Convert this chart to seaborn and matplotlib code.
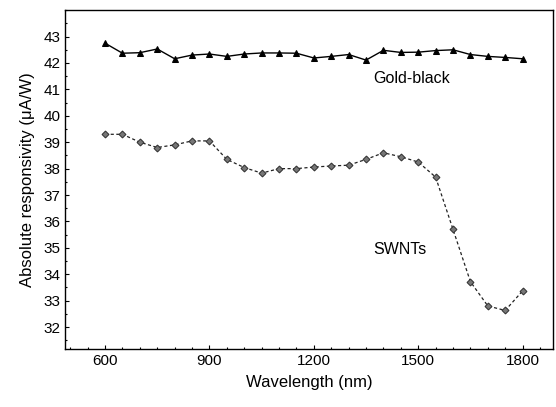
import matplotlib
matplotlib.use("Agg")
import matplotlib.pyplot as plt
import seaborn as sns
import pandas as pd
from matplotlib.ticker import MultipleLocator

wavelength = [600, 650, 700, 750, 800, 850, 900, 950, 1000, 1050, 1100, 1150, 1200,
              1250, 1300, 1350, 1400, 1450, 1500, 1550, 1600, 1650, 1700, 1750, 1800]
gold_black = [42.75, 42.37, 42.39, 42.53, 42.16, 42.30, 42.34, 42.25, 42.34, 42.38,
              42.38, 42.37, 42.19, 42.25, 42.32, 42.11, 42.48, 42.40, 42.41, 42.47,
              42.50, 42.32, 42.25, 42.21, 42.16]
swnts = [39.3, 39.3, 39.0, 38.8, 38.9, 39.05, 39.05, 38.35, 38.04, 37.83, 38.0, 38.0,
         38.06, 38.1, 38.13, 38.35, 38.6, 38.45, 38.25, 37.68, 35.7, 33.72, 32.8, 32.63, 33.37]

sns.set_theme(style="white")
plt.rcParams['font.family'] = ['Liberation Sans', 'DejaVu Sans']

df_g = pd.DataFrame({"x": wavelength, "y": gold_black})
df_s = pd.DataFrame({"x": wavelength, "y": swnts})

fig = plt.figure(figsize=(5.56, 4.07), dpi=100)
ax = fig.add_axes([0.117, 0.1425, 0.878, 0.8325])

sns.lineplot(data=df_g, x="x", y="y", ax=ax, color="black", lw=1.0,
             marker="^", markersize=5, markeredgecolor="black", markerfacecolor="black")
sns.lineplot(data=df_s, x="x", y="y", ax=ax, color="#222222", lw=0.9, linestyle=(0, (2.5, 2)),
             marker="D", markersize=3.5, markeredgecolor="#333333", markerfacecolor="#777777")

ax.set_xlim(485, 1888)
ax.set_ylim(31.17, 44.0)
ax.xaxis.set_major_locator(MultipleLocator(300))
ax.xaxis.set_minor_locator(MultipleLocator(50))
ax.yaxis.set_minor_locator(MultipleLocator(0.5))
ax.set_yticks(range(32, 44))
ax.tick_params(which="both", direction="in", length=3, width=0.8, color="black",
               labelsize=11, labelcolor="black")
ax.tick_params(which="minor", length=1.5)
ax.tick_params(axis="both", which="both", bottom=True, left=True)
for s in ax.spines.values():
    s.set_color("black")
    s.set_linewidth(1.0)

ax.set_xlabel("Wavelength (nm)", fontsize=12, color="black", labelpad=5)
ax.set_ylabel("Absolute responsivity (\u03bcA/W)", fontsize=12, color="black", labelpad=6)

ax.text(1370, 41.42, "Gold-black", fontsize=11.5, va="center", ha="left", color="black")
ax.text(1370, 34.93, "SWNTs", fontsize=11.5, va="center", ha="left", color="black")

fig.savefig("out.png", dpi=100)
